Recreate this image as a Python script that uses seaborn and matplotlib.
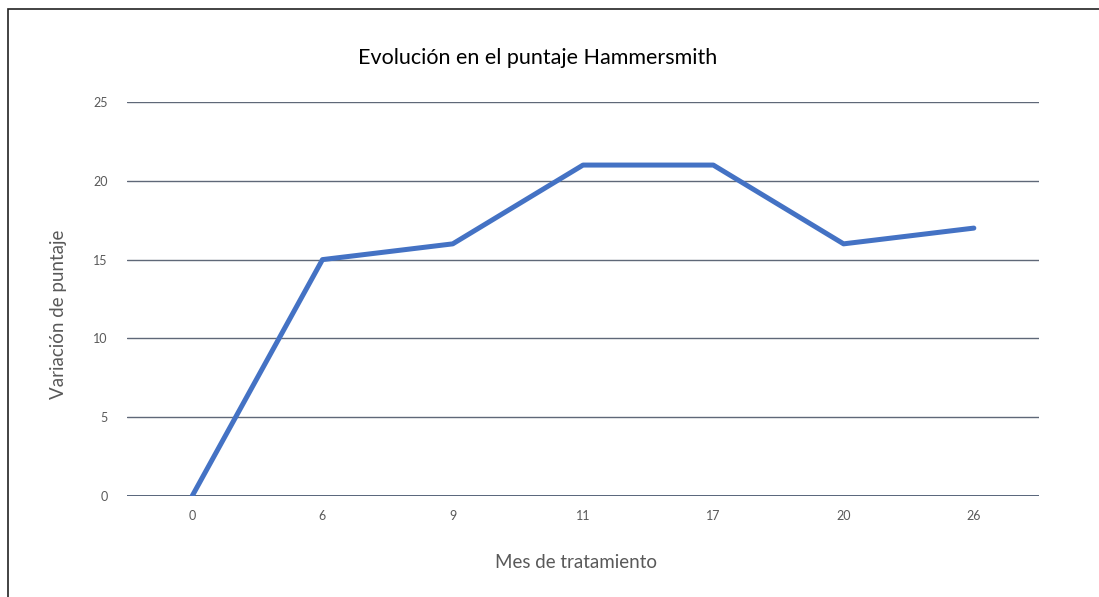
import matplotlib
matplotlib.use("Agg")
import matplotlib.pyplot as plt
import seaborn as sns
import pandas as pd
from matplotlib.patches import Rectangle

# datos
meses = ["0", "6", "9", "11", "17", "20", "26"]
puntaje = [0, 15, 16, 21, 21, 16, 17]

sns.set_theme(style="white")
plt.rcParams['font.family'] = ['Lato', 'DejaVu Sans']

df = pd.DataFrame({"mes": meses, "puntaje": puntaje})

fig = plt.figure(figsize=(10.99, 5.97), dpi=100)
ax = fig.add_axes([0.1156, 0.1692, 0.8298, 0.6599])

sns.lineplot(data=df, x="mes", y="puntaje", sort=False, color="#4472C4",
             linewidth=3.6, ax=ax, solid_capstyle="round", solid_joinstyle="round", zorder=3)

ax.set_ylim(0, 25)
ax.set_xlim(-0.5, len(meses) - 0.5)
ax.set_yticks([0, 5, 10, 15, 20, 25])
for y in [5, 10, 15, 20, 25]:
    ax.axhline(y, color="#5f6878", linewidth=1.0, zorder=1)
ax.axhline(0, color="#3b4a63", linewidth=1.2, zorder=1)

for s in ax.spines.values():
    s.set_visible(False)
ax.tick_params(axis="both", length=0, labelsize=9, labelcolor="#595959")
ax.tick_params(axis="x", pad=10)
ax.tick_params(axis="y", pad=14)

ax.set_xlabel("Mes de tratamiento", fontsize=13.5, color="#595959")
ax.set_ylabel("Variación de puntaje", fontsize=13.5, color="#595959")
ax.xaxis.set_label_coords(0.492, -0.148)
ax.yaxis.set_label_coords(-0.066, 0.462)
fig.text(0.489, 0.903, "Evolución en el puntaje Hammersmith", fontsize=15.5,
         color="#000000", ha="center", va="center")

fig.patches.append(Rectangle((8 / 1099, -0.1), 1.2, 1 - 9 / 597 + 0.1,
                             transform=fig.transFigure, fill=False,
                             edgecolor="#222222", linewidth=1.2))

fig.savefig("out.png", dpi=100)
